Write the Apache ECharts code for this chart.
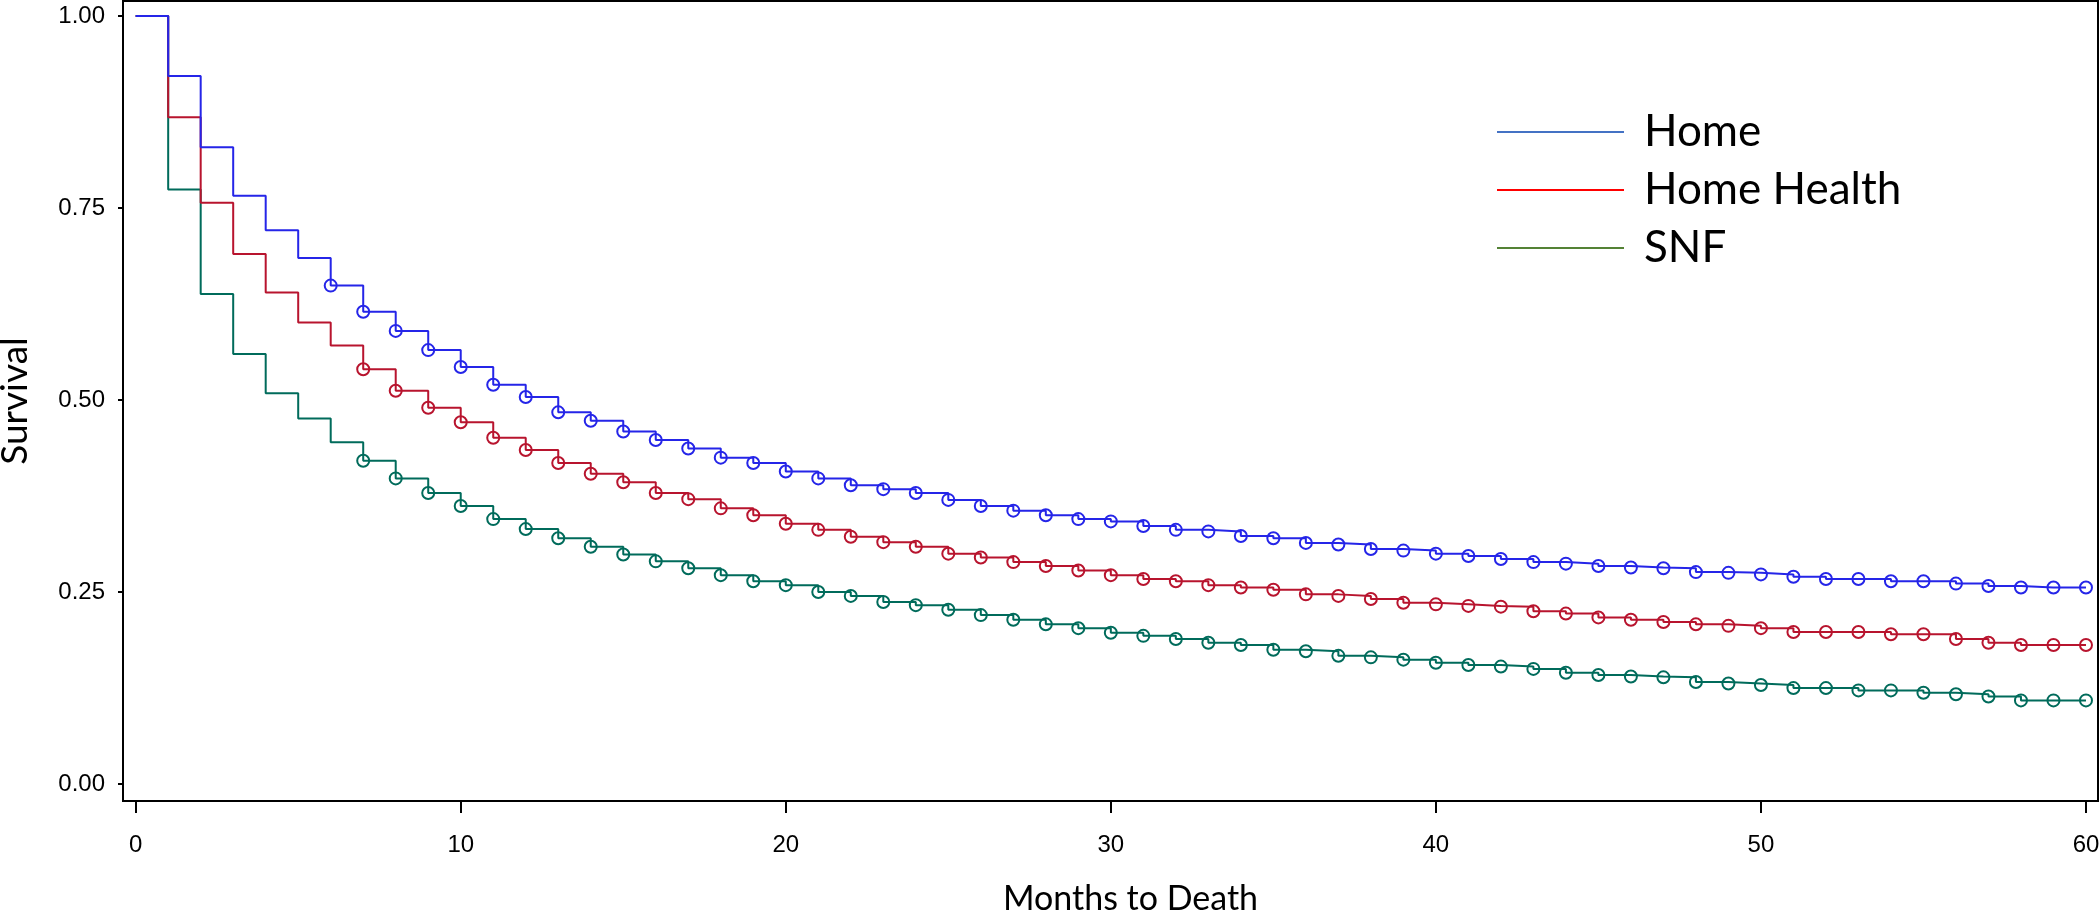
<!DOCTYPE html>
<html><head><meta charset="utf-8">
<script src="https://cdn.jsdelivr.net/npm/echarts@6/dist/echarts.min.js"></script>
<style>html,body{margin:0;padding:0;background:#fff}#c{width:2100px;height:913px}</style>
</head><body><div id="c"></div>
<script>
const months = [0,1,2,3,4,5,6,7,8,9,10,11,12,13,14,15,16,17,18,19,20,21,22,23,24,25,26,27,28,29,30,
  31,32,33,34,35,36,37,38,39,40,41,42,43,44,45,46,47,48,49,50,51,52,53,54,55,56,57,58,59,60];

const home = [1.000,0.922,0.829,0.766,0.721,0.685,0.649,0.615,0.590,0.565,0.543,0.520,0.504,0.484,0.473,0.459,
  0.448,0.437,0.425,0.418,0.407,0.398,0.389,0.384,0.379,0.370,0.362,0.356,0.350,0.345,0.342,0.336,0.331,0.329,
  0.323,0.320,0.314,0.312,0.306,0.304,0.300,0.297,0.293,0.289,0.287,0.284,0.282,0.281,0.276,0.275,0.273,0.270,
  0.267,0.267,0.264,0.264,0.261,0.258,0.256,0.256,0.256];

const homeHealth = [1.000,0.868,0.757,0.690,0.640,0.601,0.571,0.540,0.512,0.490,0.471,0.451,0.435,0.418,0.404,0.393,
  0.379,0.371,0.359,0.350,0.339,0.331,0.322,0.315,0.309,0.300,0.295,0.289,0.284,0.278,0.272,0.267,0.264,0.259,
  0.256,0.253,0.247,0.245,0.241,0.236,0.234,0.232,0.231,0.225,0.222,0.217,0.214,0.211,0.208,0.206,0.203,0.198,
  0.198,0.198,0.195,0.195,0.189,0.184,0.181,0.181,0.181];

const snf = [1.000,0.774,0.638,0.560,0.509,0.476,0.445,0.421,0.398,0.379,0.362,0.345,0.332,0.320,0.309,0.299,
  0.290,0.281,0.272,0.264,0.259,0.250,0.245,0.237,0.233,0.227,0.220,0.214,0.208,0.203,0.197,0.193,0.189,0.184,
  0.181,0.175,0.173,0.167,0.165,0.162,0.158,0.155,0.153,0.150,0.145,0.142,0.140,0.139,0.133,0.131,0.129,0.125,
  0.125,0.122,0.122,0.119,0.117,0.114,0.109,0.109,0.109];

// first month that carries a censoring marker, per group
const censorStartHome = 6;
const censorStartHomeHealth = 7;
const censorStartSnf = 7;

const seriesNames = ['Home', 'Home Health', 'SNF'];
const xTicks = [0, 10, 20, 30, 40, 50, 60];
const yTicks = [0, 0.25, 0.5, 0.75, 1.0];

const lineColors = ['#2525E8', '#B8142E', '#006B5B'];
const legendColors = ['#4472C4', '#FF0000', '#548235'];

function kmSeries(name, values, color, start, z) {
  return {
    name: name,
    type: 'line',
    step: 'end',
    data: months.map((m, i) => [m, values[i]]),
    symbol: (val, params) => (params.dataIndex >= start ? 'circle' : 'none'),
    symbolSize: 12,
    showAllSymbol: true,
    lineStyle: { color: color, width: 2 },
    itemStyle: { color: 'rgba(255,255,255,0)', borderColor: color, borderWidth: 2 },
    emphasis: { disabled: true },
    z: z
  };
}

const tickFont = "'Liberation Sans Narrow', 'Liberation Sans', Arial, sans-serif";
const titleFont = "Lato, 'Open Sans', sans-serif";

const chart = echarts.init(document.getElementById('c'), null, { renderer: 'canvas' });
chart.setOption({
  animation: false,
  backgroundColor: '#fff',
  grid: { left: 123, right: 2, top: 1, bottom: 112, show: true, borderColor: '#000', borderWidth: 2,
    backgroundColor: 'transparent', outerBoundsMode: 'none', containLabel: false },
  legend: {
    orient: 'vertical', left: 1492, top: 102,
    itemWidth: 127, itemHeight: 2, itemGap: 8,
    icon: 'rect', selectedMode: false,
    textStyle: { fontFamily: titleFont, fontSize: 44, color: '#000', lineHeight: 50, padding: [0, 0, 0, 15] },
    data: seriesNames.map((n, i) => ({ name: n, itemStyle: { color: legendColors[i], borderWidth: 0 } }))
  },
  xAxis: {
    type: 'value', min: -0.39, max: 60.37,
    axisLine: { show: true, onZero: false, lineStyle: { color: '#000', width: 2 } },
    axisTick: { show: true, customValues: xTicks, length: 12, lineStyle: { color: '#000', width: 2 } },
    axisLabel: { customValues: xTicks, fontFamily: tickFont, fontSize: 24, color: '#000', margin: 32 },
    splitLine: { show: false },
    name: 'Months to Death', nameLocation: 'middle', nameGap: 81,
    nameTextStyle: { fontFamily: titleFont, fontSize: 34, color: '#000', padding: [0, 0, 0, 40] }
  },
  yAxis: {
    type: 'value', min: -0.022, max: 1.0195,
    axisLine: { show: true, onZero: false, lineStyle: { color: '#000', width: 2 } },
    axisTick: { show: true, customValues: yTicks, length: 5, lineStyle: { color: '#000', width: 2 } },
    axisLabel: { customValues: yTicks, fontFamily: tickFont, fontSize: 24, color: '#000', margin: 18,
      formatter: v => v.toFixed(2) },
    splitLine: { show: false },
    name: 'Survival', nameLocation: 'middle', nameGap: 89,
    nameTextStyle: { fontFamily: titleFont, fontSize: 37, color: '#000' }
  },
  series: [
    kmSeries(seriesNames[2], snf, lineColors[2], censorStartSnf, 2),
    kmSeries(seriesNames[1], homeHealth, lineColors[1], censorStartHomeHealth, 3),
    kmSeries(seriesNames[0], home, lineColors[0], censorStartHome, 4)
  ]
});
</script>
</body></html>
